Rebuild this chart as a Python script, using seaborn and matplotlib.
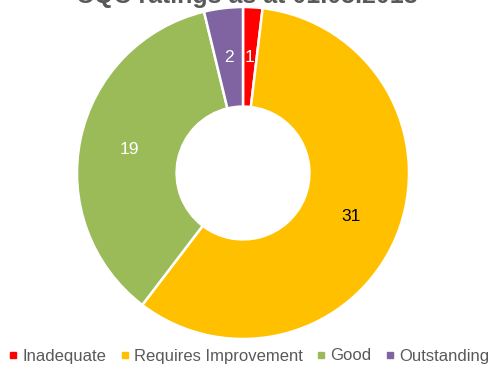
import matplotlib
matplotlib.use("Agg")
import matplotlib.pyplot as plt
from matplotlib.lines import Line2D
import numpy as np
import seaborn as sns

categories = ["Inadequate", "Requires Improvement", "Good", "Outstanding"]
values = [1, 31, 19, 2]
colors = ["#FF0000", "#FFC000", "#9BBB59", "#8064A2"]
label_colors = ["white", "black", "white", "white"]
title = "CQC ratings as at 01.05.2018"

sns.set_style("white")
plt.rcParams["font.family"] = ["Liberation Sans", "DejaVu Sans"]

fig = plt.figure(figsize=(4.91, 3.65), dpi=100)
ax = fig.add_axes([77 / 491, 26 / 365, 332 / 491, 332 / 365])
palette = sns.color_palette(colors)

wedges, texts = ax.pie(
    values,
    colors=palette,
    startangle=90,
    counterclock=False,
    radius=1.0,
    wedgeprops=dict(width=0.6, edgecolor="white", linewidth=1.8),
)
for w, v, c in zip(wedges, values, label_colors):
    ang = np.deg2rad((w.theta1 + w.theta2) / 2)
    r = 0.70
    ax.text(r * np.cos(ang), r * np.sin(ang), str(v), ha="center", va="center",
            color=c, fontsize=12.5)
ax.set_xlim(-1, 1)
ax.set_ylim(-1, 1)
ax.set_aspect("equal")
ax.axis("off")

fig.text(247 / 491, (365 - 3.5) / 365, title, ha="center", va="baseline",
         fontsize=18, fontweight="bold", color="#595959")

handles = [Line2D([0], [0], marker="s", linestyle="none", markersize=4,
                  markerfacecolor=c, markeredgecolor=c) for c in colors]
fig.legend(handles, categories, loc="center", bbox_to_anchor=(249.5 / 491, 1 - 356 / 365),
           ncol=4, frameon=False, fontsize=12, handlelength=0.4,
           handletextpad=0.35, columnspacing=0.9, labelcolor="#595959",
           borderpad=0, borderaxespad=0)

fig.savefig("out.png", dpi=100)
